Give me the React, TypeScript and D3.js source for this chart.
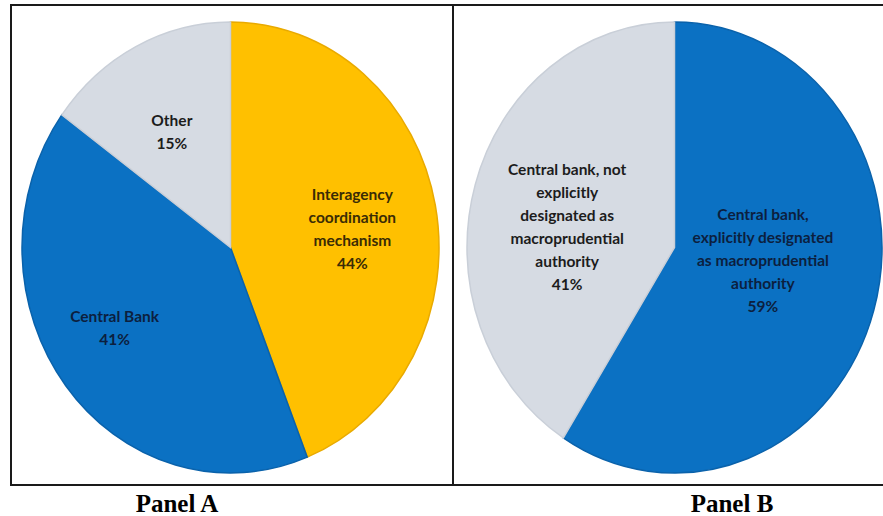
import React from 'react';
import * as d3 from 'd3';

// Panel A: which agency holds the macroprudential mandate
const panelALabels = [
    ['Interagency', 'coordination', 'mechanism'],
    ['Central Bank'],
    ['Other'],
];
const panelAValues = [44, 41, 15];

// Panel B: central bank as the authority
const panelBLabels = [
    ['Central bank,', 'explicitly designated', 'as macroprudential', 'authority'],
    ['Central bank, not', 'explicitly', 'designated as', 'macroprudential', 'authority'],
];
const panelBValues = [59, 41];

const panelTitles = ['Panel A', 'Panel B'];

const BLUE = '#0b71c3';
const YELLOW = '#ffc000';
const GREY = '#d6dbe3';

interface PanelSpec {
    labels: string[][];
    values: number[];
    fills: string[];
    strokes: string[];
    textColors: string[];
    shifts: number[];
    cx: number;
    cy: number;
    rx: number;
    ry: number;
    labelFrac: number[];
}

const panels: PanelSpec[] = [
    {
        labels: panelALabels,
        values: panelAValues,
        fills: [YELLOW, BLUE, GREY],
        strokes: ['#e9aa00', '#0a62ab', '#c9cfd8'],
        textColors: ['#3a2c05', '#0c1f3f', '#1c1c1c'],
        shifts: [0.05, 0.09, -0.03],
        cx: 230.5,
        cy: 247.5,
        rx: 208.5,
        ry: 225.5,
        labelFrac: [0.59, 0.66, 0.585],
    },
    {
        labels: panelBLabels,
        values: panelBValues,
        fills: [BLUE, GREY],
        strokes: ['#0a62ab', '#c9cfd8'],
        textColors: ['#0c1f3f', '#1c1c1c'],
        shifts: [-0.15, -0.11],
        cx: 674.5,
        cy: 247.5,
        rx: 207.5,
        ry: 225.5,
        labelFrac: [0.43, 0.525],
    },
];

const LINE_H = 23;

const Pie: React.FC<{ p: PanelSpec }> = ({ p }) => {
    const kx = p.rx / p.ry;
    const slices = d3.pie<number>().sort(null).value(d => d)(p.values);
    const arc = d3.arc<d3.PieArcDatum<number>>().innerRadius(0).outerRadius(p.ry);

    return (
        <g>
            <g transform={`translate(${p.cx},${p.cy}) scale(${kx},1)`}>
                {slices.map((s, i) => (
                    <path
                        key={i}
                        d={arc(s) || ''}
                        fill={p.fills[i]}
                        stroke={p.strokes[i]}
                        strokeWidth={1.5}
                        vectorEffect="non-scaling-stroke"
                    />
                ))}
            </g>
            {slices.map((s, i) => {
                // measured label angles differ a little from the slice mid-angles
                const a = (s.startAngle + s.endAngle) / 2 + p.shifts[i];
                const r = p.ry * p.labelFrac[i];
                const x = p.cx + Math.sin(a) * r * kx;
                const y = p.cy - Math.cos(a) * r;
                const lines = [...p.labels[i], `${p.values[i]}%`];
                const top = y - ((lines.length - 1) * LINE_H) / 2;
                return (
                    <text
                        key={i}
                        textAnchor="middle"
                        fontFamily="Lato, 'Open Sans', sans-serif"
                        fontWeight="bold"
                        fontSize={15.5}
                        fill={p.textColors[i]}
                    >
                        {lines.map((l, j) => (
                            <tspan key={j} x={x} y={top + j * LINE_H + 5.5}>{l}</tspan>
                        ))}
                    </text>
                );
            })}
        </g>
    );
};

const App: React.FC = () => {
    return (
        <div style={{ position: 'absolute', left: 0, top: 0 }}>
            <svg width={883} height={516} style={{ display: 'block', background: 'white' }}>
                {panels.map((p, i) => <Pie key={i} p={p} />)}

                {/* frame */}
                <line x1={11} x2={883} y1={5} y2={5} stroke="#1a1a1a" strokeWidth={2} />
                <line x1={11} x2={883} y1={485} y2={485} stroke="#1a1a1a" strokeWidth={2} />
                <line x1={11} x2={11} y1={4} y2={486} stroke="#1a1a1a" strokeWidth={2} />
                <line x1={453} x2={453} y1={4} y2={486} stroke="#1a1a1a" strokeWidth={2} />

                {panelTitles.map((t, i) => (
                    <text
                        key={t}
                        x={i === 0 ? 177 : 732}
                        y={512}
                        textAnchor="middle"
                        fontFamily="'Liberation Serif', 'Times New Roman', serif"
                        fontWeight="bold"
                        fontSize={25}
                        fill="#000"
                    >
                        {t}
                    </text>
                ))}
            </svg>
        </div>
    );
};

export default App;
